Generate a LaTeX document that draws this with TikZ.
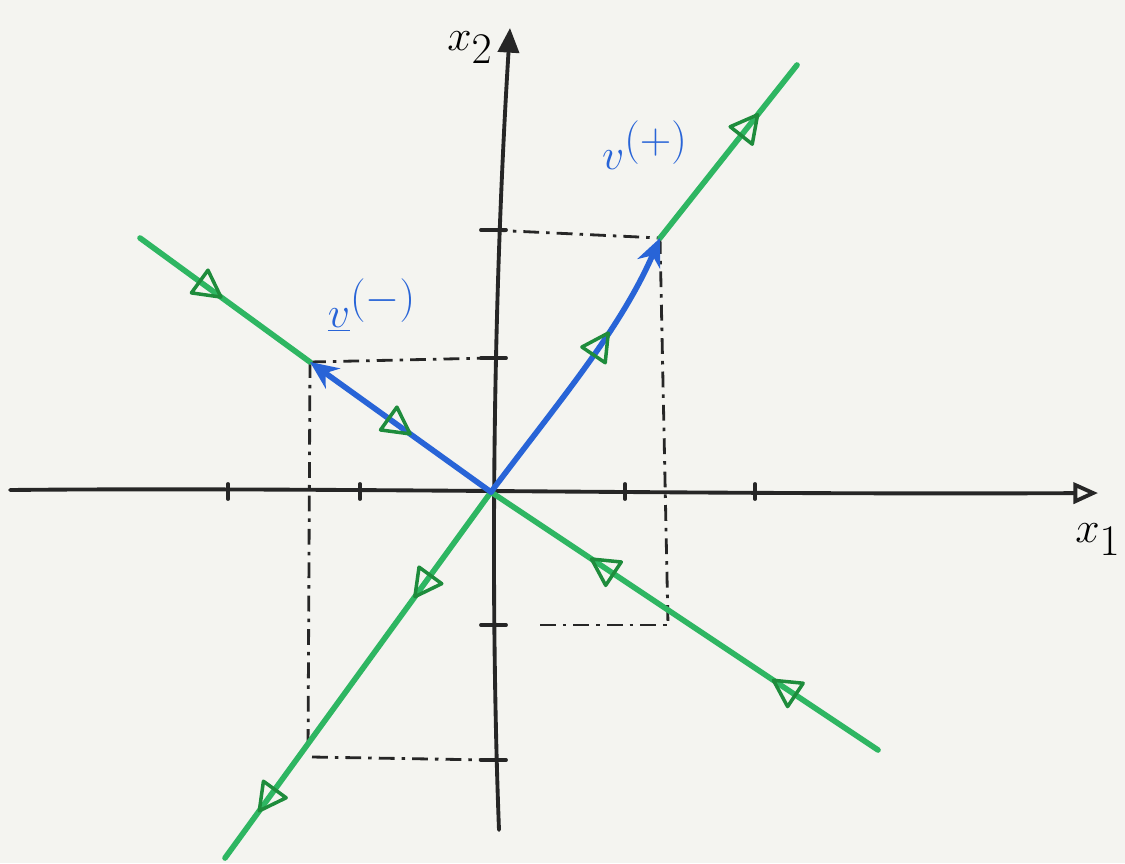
\documentclass[tikz,border=0pt]{standalone}
\usetikzlibrary{arrows.meta,decorations.markings}
\definecolor{bg}{RGB}{244,244,240}
\definecolor{grn}{RGB}{46,182,98}
\definecolor{dgrn}{RGB}{30,140,60}
\definecolor{blu}{RGB}{40,100,215}
\tikzset{
  axis/.style={line width=2.2pt, black!85, line cap=round},
  tickmark/.style={line width=2.2pt, black!85, line cap=round},
  traj/.style={line width=3.2pt, grn, line cap=round},
  vecline/.style={line width=3.2pt, blu, line cap=round, -{Stealth[length=16pt,width=14pt]}},
  guide/.style={line width=1.6pt, black!85, dash pattern=on 9pt off 4pt on 2pt off 4pt},
  fwd/.style={postaction={decorate, decoration={markings, mark=at position #1 with {\draw[line width=2pt, dgrn, line join=round, solid] (8pt,0pt) -- (-7pt,8pt) -- (-7pt,-8pt) -- cycle;}}}},
  lbl/.style={font=\fontsize{34}{36}\selectfont},
}
\begin{document}
\begin{tikzpicture}[x=0.02cm,y=-0.02cm]
\fill[bg] (0,0) rectangle (1125,863);
\useasboundingbox (0,0) rectangle (1125,863);
% key points
\coordinate (O) at (491,492);
\coordinate (A) at (225,858);
\coordinate (B) at (797,65);
\coordinate (P) at (660,238);
\coordinate (C) at (140,238);
\coordinate (M) at (310,362);
\coordinate (D) at (878,750);
% axes
\coordinate (xs) at (10,490);
\coordinate (xe) at (1098,493);
\coordinate (ys) at (499,830);
\coordinate (ye) at (510,28);
\draw[axis, -{Triangle[open,length=14pt,width=12pt,line width=2.2pt]}] (xs) .. controls (300,487) and (700,495) .. (xe);
\draw[axis, -{Triangle[length=14pt,width=12pt]}] (ys) .. controls (492,650) and (490,350) .. (ye);
% ticks
\foreach \x in {228,360,625,755} \draw[tickmark] (\x,484) -- (\x,499);
\foreach \y in {230,358,625,760} \draw[tickmark] (481,\y) -- (506,\y);
% guides
\coordinate (g1) at (490,230);
\coordinate (g2) at (668,625);
\coordinate (g3) at (540,625);
\coordinate (g4) at (490,358);
\coordinate (g5) at (308,752);
\coordinate (g6) at (312,757);
\coordinate (g7) at (490,760);
\draw[guide] (g1) -- (P);
\draw[guide] (P) -- (g2);
\draw[guide] (g3) -- (g2);
\draw[guide] (M) -- (g4);
\draw[guide] (M) -- (g5);
\draw[guide] (g6) -- (g7);
% trajectories
\draw[traj, fwd=0.255, fwd=0.84] (O) -- (A);
\draw[traj, fwd=0.65] (P) -- (B);
\draw[traj, fwd=0.41] (C) -- (M);
\draw[traj] (O) -- (D);
\path[fwd=0.71, fwd=0.24] (D) -- (O);
% vectors
\draw[vecline] (O) .. controls (560,400) and (620,330) .. (P);
\draw[vecline] (O) -- (M);
\path[fwd=0.6] (O) .. controls (560,400) and (620,330) .. (P);
\path[fwd=0.49] (M) -- (O);
% labels
\node[lbl] (lx2) at (470,48) {$x_2$};
\node[lbl] (lx1) at (1098,540) {$x_1$};
\node[lbl, text=blu] (lvp) at (645,145) {$v^{(+)}$};
\node[lbl, text=blu] (lvm) at (372,305) {$\underline{v}^{(-)}$};
\end{tikzpicture}
\end{document}
